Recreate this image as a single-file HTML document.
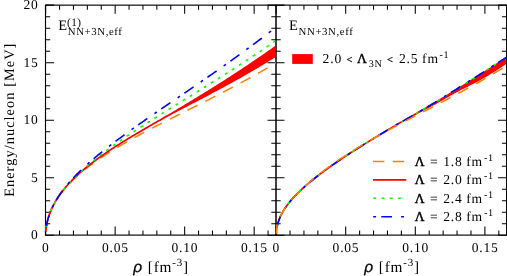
<!DOCTYPE html>
<html><head><meta charset="utf-8"><title>Energy per nucleon</title>
<style>
html,body{margin:0;padding:0;background:#fff;width:507px;height:276px;overflow:hidden}
body{font-family:"Liberation Serif",serif;position:relative}
</style></head><body>
<svg width="507" height="276" viewBox="0 0 507 276" style="position:absolute;left:0;top:0;will-change:transform;text-rendering:geometricPrecision">
<rect width="507" height="276" fill="#fff"/>
<g stroke="#000" fill="none">
<rect x="45.50" y="5.15" width="461.10" height="229.95" stroke-width="1.15"/>
<line x1="276.00" y1="5.15" x2="276.00" y2="235.10" stroke-width="1.5"/>
</g>
<g stroke="#000" fill="none" stroke-linecap="butt">
<path stroke-width="1.05" d="M45.65,235.10 L45.65,226.60 M45.65,5.15 L45.65,13.65 M276.10,235.10 L276.10,226.60 M276.10,5.15 L276.10,13.65 M59.55,235.10 L59.55,230.40 M59.55,5.15 L59.55,9.85 M290.02,235.10 L290.02,230.40 M290.02,5.15 L290.02,9.85 M73.45,235.10 L73.45,230.40 M73.45,5.15 L73.45,9.85 M303.94,235.10 L303.94,230.40 M303.94,5.15 L303.94,9.85 M87.35,235.10 L87.35,230.40 M87.35,5.15 L87.35,9.85 M317.86,235.10 L317.86,230.40 M317.86,5.15 L317.86,9.85 M101.25,235.10 L101.25,230.40 M101.25,5.15 L101.25,9.85 M331.78,235.10 L331.78,230.40 M331.78,5.15 L331.78,9.85 M115.15,235.10 L115.15,226.60 M115.15,5.15 L115.15,13.65 M345.70,235.10 L345.70,226.60 M345.70,5.15 L345.70,13.65 M129.05,235.10 L129.05,230.40 M129.05,5.15 L129.05,9.85 M359.62,235.10 L359.62,230.40 M359.62,5.15 L359.62,9.85 M142.95,235.10 L142.95,230.40 M142.95,5.15 L142.95,9.85 M373.54,235.10 L373.54,230.40 M373.54,5.15 L373.54,9.85 M156.85,235.10 L156.85,230.40 M156.85,5.15 L156.85,9.85 M387.46,235.10 L387.46,230.40 M387.46,5.15 L387.46,9.85 M170.75,235.10 L170.75,230.40 M170.75,5.15 L170.75,9.85 M401.38,235.10 L401.38,230.40 M401.38,5.15 L401.38,9.85 M184.65,235.10 L184.65,226.60 M184.65,5.15 L184.65,13.65 M415.30,235.10 L415.30,226.60 M415.30,5.15 L415.30,13.65 M198.55,235.10 L198.55,230.40 M198.55,5.15 L198.55,9.85 M429.22,235.10 L429.22,230.40 M429.22,5.15 L429.22,9.85 M212.45,235.10 L212.45,230.40 M212.45,5.15 L212.45,9.85 M443.14,235.10 L443.14,230.40 M443.14,5.15 L443.14,9.85 M226.35,235.10 L226.35,230.40 M226.35,5.15 L226.35,9.85 M457.06,235.10 L457.06,230.40 M457.06,5.15 L457.06,9.85 M240.25,235.10 L240.25,230.40 M240.25,5.15 L240.25,9.85 M470.98,235.10 L470.98,230.40 M470.98,5.15 L470.98,9.85 M254.15,235.10 L254.15,226.60 M254.15,5.15 L254.15,13.65 M484.90,235.10 L484.90,226.60 M484.90,5.15 L484.90,13.65 M268.05,235.10 L268.05,230.40 M268.05,5.15 L268.05,9.85 M498.82,235.10 L498.82,230.40 M498.82,5.15 L498.82,9.85 M45.50,235.15 L54.00,235.15 M267.50,235.15 L284.50,235.15 M506.60,235.15 L498.10,235.15 M45.50,223.70 L50.20,223.70 M271.30,223.70 L280.70,223.70 M506.60,223.70 L501.90,223.70 M45.50,212.20 L50.20,212.20 M271.30,212.20 L280.70,212.20 M506.60,212.20 L501.90,212.20 M45.50,200.71 L50.20,200.71 M271.30,200.71 L280.70,200.71 M506.60,200.71 L501.90,200.71 M45.50,189.21 L50.20,189.21 M271.30,189.21 L280.70,189.21 M506.60,189.21 L501.90,189.21 M45.50,177.71 L54.00,177.71 M267.50,177.71 L284.50,177.71 M506.60,177.71 L498.10,177.71 M45.50,166.22 L50.20,166.22 M271.30,166.22 L280.70,166.22 M506.60,166.22 L501.90,166.22 M45.50,154.72 L50.20,154.72 M271.30,154.72 L280.70,154.72 M506.60,154.72 L501.90,154.72 M45.50,143.22 L50.20,143.22 M271.30,143.22 L280.70,143.22 M506.60,143.22 L501.90,143.22 M45.50,131.72 L50.20,131.72 M271.30,131.72 L280.70,131.72 M506.60,131.72 L501.90,131.72 M45.50,120.22 L54.00,120.22 M267.50,120.22 L284.50,120.22 M506.60,120.22 L498.10,120.22 M45.50,108.73 L50.20,108.73 M271.30,108.73 L280.70,108.73 M506.60,108.73 L501.90,108.73 M45.50,97.23 L50.20,97.23 M271.30,97.23 L280.70,97.23 M506.60,97.23 L501.90,97.23 M45.50,85.73 L50.20,85.73 M271.30,85.73 L280.70,85.73 M506.60,85.73 L501.90,85.73 M45.50,74.24 L50.20,74.24 M271.30,74.24 L280.70,74.24 M506.60,74.24 L501.90,74.24 M45.50,62.74 L54.00,62.74 M267.50,62.74 L284.50,62.74 M506.60,62.74 L498.10,62.74 M45.50,51.24 L50.20,51.24 M271.30,51.24 L280.70,51.24 M506.60,51.24 L501.90,51.24 M45.50,39.74 L50.20,39.74 M271.30,39.74 L280.70,39.74 M506.60,39.74 L501.90,39.74 M45.50,28.25 L50.20,28.25 M271.30,28.25 L280.70,28.25 M506.60,28.25 L501.90,28.25 M45.50,16.75 L50.20,16.75 M271.30,16.75 L280.70,16.75 M506.60,16.75 L501.90,16.75 M45.50,5.10 L54.00,5.10 M267.50,5.10 L284.50,5.10 M506.60,5.10 L498.10,5.10"/>
</g>
<g clip-path="url(#clipL)">
<defs><clipPath id="clipL"><rect x="44.50" y="5.15" width="230.80" height="230.45"/></clipPath><clipPath id="clipR"><rect x="275.50" y="5.15" width="230.40" height="230.45"/></clipPath></defs>
<path d="M45.50,232.00 L46.00,228.41 L46.01,228.37 L46.02,228.24 L46.05,228.03 L46.09,227.74 L46.14,227.39 L46.20,226.97 L46.27,226.50 L46.36,225.98 L46.45,225.42 L46.56,224.82 L46.68,224.20 L46.81,223.55 L46.95,222.87 L47.10,222.18 L47.26,221.48 L47.43,220.76 L47.62,220.03 L47.81,219.29 L48.02,218.54 L48.24,217.79 L48.47,217.03 L48.71,216.27 L48.96,215.50 L49.22,214.73 L49.50,213.96 L49.78,213.18 L50.08,212.40 L50.39,211.63 L50.71,210.85 L51.04,210.07 L51.38,209.29 L51.73,208.51 L52.09,207.73 L52.47,206.95 L52.85,206.17 L53.25,205.39 L53.66,204.61 L54.08,203.83 L54.51,203.06 L54.95,202.28 L55.41,201.51 L55.87,200.73 L56.35,199.96 L56.83,199.19 L57.33,198.42 L57.84,197.65 L58.36,196.88 L58.89,196.11 L59.44,195.34 L59.99,194.57 L60.55,193.81 L61.13,193.05 L61.72,192.28 L62.32,191.52 L62.93,190.76 L63.55,190.00 L64.18,189.24 L64.82,188.48 L65.48,187.72 L66.14,186.97 L66.82,186.21 L67.51,185.45 L68.21,184.70 L68.92,183.95 L69.64,183.19 L70.38,182.44 L71.12,181.69 L71.88,180.94 L72.64,180.19 L73.42,179.44 L74.21,178.69 L75.01,177.94 L75.82,177.20 L76.64,176.45 L77.48,175.70 L78.32,174.95 L79.18,174.21 L80.04,173.46 L80.92,172.72 L81.81,171.97 L82.71,171.23 L83.63,170.48 L84.55,169.74 L85.48,169.00 L86.43,168.25 L87.39,167.51 L88.35,166.77 L89.33,166.02 L90.32,165.28 L91.33,164.54 L92.34,163.79 L93.36,163.05 L94.40,162.30 L95.44,161.56 L96.50,160.82 L97.57,160.07 L98.65,159.33 L99.74,158.58 L100.84,157.84 L101.96,157.09 L103.08,156.34 L104.22,155.60 L105.37,154.85 L106.52,154.10 L107.69,153.35 L108.87,152.60 L110.07,151.85 L111.27,151.10 L112.48,150.35 L113.71,149.60 L114.95,148.84 L116.19,148.09 L117.45,147.33 L118.72,146.58 L120.00,145.82 L121.30,145.06 L122.60,144.30 L123.92,143.53 L125.24,142.77 L126.58,142.00 L127.93,141.24 L129.29,140.47 L130.66,139.70 L132.04,138.92 L133.43,138.15 L134.84,137.37 L136.25,136.59 L137.68,135.81 L139.12,135.03 L140.57,134.24 L142.03,133.45 L143.50,132.66 L144.98,131.87 L146.48,131.07 L147.98,130.27 L149.50,129.47 L151.03,128.67 L152.57,127.88 L154.12,127.08 L155.68,126.28 L157.25,125.47 L158.83,124.66 L160.43,123.85 L162.03,123.04 L163.65,122.22 L165.28,121.39 L166.92,120.57 L168.57,119.73 L170.23,118.90 L171.91,118.06 L173.59,117.21 L175.29,116.36 L176.99,115.50 L178.71,114.64 L180.44,113.78 L182.18,112.91 L183.93,112.03 L185.69,111.15 L187.47,110.26 L189.25,109.37 L191.05,108.47 L192.86,107.56 L194.68,106.65 L196.51,105.73 L198.35,104.80 L200.20,103.87 L202.06,102.93 L203.94,101.98 L205.82,101.03 L207.72,100.07 L209.63,99.10 L211.55,98.12 L213.48,97.13 L215.42,96.14 L217.37,95.13 L219.34,94.12 L221.31,93.10 L223.30,92.07 L225.30,91.03 L227.30,89.98 L229.32,88.92 L231.36,87.85 L233.40,86.77 L235.45,85.68 L237.52,84.58 L239.59,83.47 L241.68,82.34 L243.78,81.21 L245.89,80.06 L248.01,78.90 L250.14,77.73 L252.28,76.55 L254.44,75.35 L256.60,74.15 L258.78,72.92 L260.97,71.69 L263.17,70.44 L265.38,69.18 L267.60,67.90" fill="none" stroke="#ff7f00" stroke-width="1.50" stroke-dasharray="11.20 8.70" stroke-dashoffset="4.24"/>
<path d="M44.66,231.88 L45.16,228.43 L45.16,228.39 L45.18,228.26 L45.21,228.04 L45.25,227.74 L45.30,227.37 L45.37,226.94 L45.45,226.45 L45.53,225.91 L45.63,225.34 L45.75,224.72 L45.87,224.07 L46.00,223.40 L46.15,222.71 L46.31,221.99 L46.48,221.26 L46.66,220.52 L46.86,219.77 L47.06,219.00 L47.28,218.23 L47.51,217.45 L47.75,216.66 L48.00,215.87 L48.27,215.07 L48.54,214.27 L48.83,213.47 L49.13,212.66 L49.44,211.85 L49.77,211.04 L50.10,210.23 L50.45,209.42 L50.81,208.61 L51.18,207.80 L51.56,206.98 L51.95,206.17 L52.36,205.36 L52.77,204.54 L53.20,203.73 L53.64,202.92 L54.09,202.11 L54.56,201.30 L55.03,200.48 L55.52,199.67 L56.02,198.87 L56.53,198.06 L57.05,197.25 L57.58,196.44 L58.13,195.64 L58.68,194.83 L59.25,194.03 L59.83,193.22 L60.42,192.42 L61.03,191.62 L61.64,190.82 L62.27,190.02 L62.91,189.22 L63.56,188.42 L64.22,187.62 L64.89,186.82 L65.57,186.02 L66.27,185.23 L66.98,184.43 L67.70,183.63 L68.43,182.84 L69.17,182.05 L69.92,181.25 L70.69,180.46 L71.47,179.67 L72.26,178.87 L73.06,178.08 L73.87,177.29 L74.69,176.50 L75.53,175.71 L76.37,174.91 L77.23,174.12 L78.10,173.33 L78.98,172.54 L79.87,171.75 L80.78,170.96 L81.69,170.17 L82.62,169.38 L83.56,168.59 L84.51,167.80 L85.47,167.00 L86.45,166.21 L87.43,165.42 L88.43,164.63 L89.44,163.83 L90.46,163.04 L91.49,162.25 L92.53,161.45 L93.59,160.66 L94.65,159.86 L95.73,159.06 L96.82,158.27 L97.92,157.47 L99.03,156.67 L100.16,155.87 L101.29,155.07 L102.44,154.27 L103.60,153.46 L104.77,152.66 L105.95,151.85 L107.14,151.04 L108.35,150.23 L109.56,149.42 L110.79,148.61 L112.03,147.80 L113.28,146.98 L114.54,146.16 L115.82,145.35 L117.10,144.52 L118.40,143.70 L119.71,142.88 L121.03,142.05 L122.36,141.22 L123.70,140.39 L125.06,139.55 L126.43,138.71 L127.80,137.87 L129.19,137.03 L130.60,136.18 L132.01,135.34 L133.43,134.48 L134.87,133.63 L136.32,132.77 L137.78,131.91 L139.25,131.04 L140.73,130.18 L142.22,129.30 L143.73,128.43 L145.24,127.55 L146.77,126.66 L148.31,125.77 L149.86,124.88 L151.43,123.98 L153.00,123.08 L154.59,122.17 L156.18,121.25 L157.79,120.33 L159.41,119.40 L161.04,118.47 L162.69,117.53 L164.34,116.58 L166.01,115.62 L167.69,114.65 L169.37,113.67 L171.08,112.68 L172.79,111.68 L174.51,110.67 L176.25,109.64 L177.99,108.60 L179.75,107.56 L181.52,106.50 L183.30,105.43 L185.10,104.35 L186.90,103.26 L188.72,102.16 L190.55,101.05 L192.39,99.93 L194.24,98.80 L196.10,97.67 L197.98,96.52 L199.87,95.36 L201.76,94.20 L203.67,93.02 L205.60,91.83 L207.53,90.64 L209.47,89.43 L211.43,88.21 L213.40,86.98 L215.38,85.75 L217.37,84.49 L219.37,83.23 L221.39,81.96 L223.41,80.67 L225.45,79.38 L227.50,78.07 L229.56,76.74 L231.63,75.41 L233.71,74.06 L235.81,72.70 L237.92,71.32 L240.04,69.93 L242.17,68.53 L244.31,67.11 L246.46,65.68 L248.62,64.23 L250.80,62.77 L252.99,61.29 L255.19,59.80 L257.40,58.29 L259.62,56.77 L261.86,55.23 L264.10,53.67 L266.36,52.09 L268.63,50.50 L270.91,48.89 L273.20,47.26 L275.51,45.61 L276.45,56.59 L274.14,58.03 L271.85,59.45 L269.56,60.85 L267.29,62.24 L265.03,63.61 L262.78,64.96 L260.54,66.30 L258.31,67.63 L256.10,68.93 L253.89,70.23 L251.70,71.51 L249.52,72.77 L247.35,74.02 L245.20,75.25 L243.05,76.48 L240.92,77.69 L238.80,78.88 L236.69,80.07 L234.59,81.24 L232.50,82.39 L230.43,83.54 L228.37,84.67 L226.31,85.80 L224.27,86.91 L222.25,88.01 L220.23,89.10 L218.22,90.18 L216.23,91.25 L214.25,92.31 L212.28,93.35 L210.32,94.39 L208.37,95.42 L206.44,96.44 L204.52,97.45 L202.60,98.46 L200.70,99.45 L198.82,100.44 L196.94,101.41 L195.08,102.38 L193.22,103.35 L191.38,104.30 L189.55,105.25 L187.73,106.19 L185.93,107.13 L184.13,108.06 L182.35,108.99 L180.58,109.92 L178.82,110.84 L177.08,111.76 L175.34,112.68 L173.62,113.60 L171.91,114.52 L170.21,115.44 L168.52,116.36 L166.84,117.28 L165.18,118.20 L163.52,119.12 L161.88,120.04 L160.25,120.95 L158.63,121.86 L157.02,122.77 L155.43,123.68 L153.84,124.58 L152.27,125.47 L150.71,126.37 L149.16,127.26 L147.62,128.14 L146.10,129.02 L144.58,129.90 L143.08,130.78 L141.59,131.65 L140.11,132.51 L138.64,133.38 L137.18,134.24 L135.74,135.09 L134.30,135.95 L132.88,136.80 L131.47,137.64 L130.07,138.49 L128.69,139.33 L127.31,140.16 L125.95,141.00 L124.60,141.83 L123.26,142.66 L121.93,143.49 L120.61,144.31 L119.31,145.14 L118.02,145.96 L116.73,146.78 L115.46,147.59 L114.21,148.41 L112.96,149.22 L111.73,150.03 L110.50,150.84 L109.29,151.65 L108.09,152.45 L106.90,153.26 L105.73,154.06 L104.56,154.86 L103.41,155.66 L102.27,156.46 L101.14,157.26 L100.02,158.05 L98.91,158.85 L97.82,159.64 L96.74,160.43 L95.67,161.23 L94.61,162.02 L93.56,162.81 L92.52,163.60 L91.50,164.39 L90.48,165.17 L89.48,165.96 L88.49,166.75 L87.52,167.53 L86.55,168.32 L85.59,169.11 L84.65,169.89 L83.72,170.68 L82.80,171.46 L81.89,172.24 L81.00,173.03 L80.11,173.81 L79.24,174.59 L78.38,175.38 L77.53,176.16 L76.69,176.94 L75.86,177.73 L75.05,178.51 L74.25,179.29 L73.46,180.08 L72.68,180.86 L71.91,181.64 L71.15,182.43 L70.41,183.21 L69.68,184.00 L68.95,184.78 L68.24,185.57 L67.55,186.35 L66.86,187.14 L66.19,187.92 L65.52,188.71 L64.87,189.49 L64.23,190.28 L63.60,191.07 L62.99,191.86 L62.38,192.65 L61.79,193.43 L61.21,194.22 L60.64,195.01 L60.08,195.80 L59.53,196.60 L59.00,197.39 L58.47,198.18 L57.96,198.97 L57.46,199.76 L56.97,200.56 L56.49,201.35 L56.03,202.15 L55.57,202.94 L55.13,203.74 L54.70,204.53 L54.28,205.33 L53.87,206.12 L53.48,206.92 L53.09,207.71 L52.72,208.51 L52.36,209.30 L52.01,210.10 L51.67,210.89 L51.34,211.68 L51.03,212.47 L50.72,213.26 L50.43,214.05 L50.15,214.83 L49.88,215.61 L49.62,216.39 L49.37,217.17 L49.14,217.93 L48.91,218.70 L48.70,219.45 L48.50,220.20 L48.31,220.93 L48.13,221.66 L47.97,222.37 L47.81,223.07 L47.67,223.75 L47.54,224.40 L47.42,225.03 L47.31,225.63 L47.21,226.20 L47.12,226.72 L47.05,227.20 L46.99,227.62 L46.93,227.98 L46.89,228.27 L46.87,228.48 L46.85,228.61 L46.84,228.67 L46.34,232.12 Z" fill="#ff0000" stroke="none"/>
<path d="M45.50,232.00 L46.00,228.42 L46.01,228.38 L46.02,228.24 L46.05,228.03 L46.09,227.73 L46.15,227.37 L46.21,226.94 L46.28,226.45 L46.37,225.92 L46.47,225.35 L46.58,224.74 L46.70,224.11 L46.84,223.45 L46.98,222.77 L47.14,222.07 L47.31,221.35 L47.49,220.62 L47.68,219.88 L47.88,219.13 L48.10,218.38 L48.32,217.62 L48.56,216.85 L48.81,216.07 L49.07,215.30 L49.35,214.52 L49.63,213.73 L49.93,212.95 L50.23,212.16 L50.55,211.37 L50.88,210.58 L51.23,209.79 L51.58,208.99 L51.95,208.20 L52.32,207.40 L52.71,206.61 L53.11,205.81 L53.53,205.02 L53.95,204.22 L54.39,203.42 L54.83,202.62 L55.29,201.83 L55.76,201.03 L56.25,200.23 L56.74,199.43 L57.24,198.63 L57.76,197.83 L58.29,197.03 L58.83,196.23 L59.38,195.43 L59.94,194.63 L60.52,193.83 L61.11,193.03 L61.70,192.22 L62.31,191.42 L62.94,190.62 L63.57,189.81 L64.21,189.01 L64.87,188.20 L65.54,187.40 L66.22,186.59 L66.91,185.78 L67.61,184.97 L68.33,184.16 L69.05,183.35 L69.79,182.54 L70.54,181.73 L71.30,180.91 L72.07,180.10 L72.86,179.28 L73.65,178.46 L74.46,177.64 L75.28,176.83 L76.11,176.00 L76.95,175.18 L77.80,174.36 L78.67,173.53 L79.55,172.71 L80.44,171.88 L81.34,171.05 L82.25,170.22 L83.17,169.39 L84.11,168.55 L85.05,167.72 L86.01,166.88 L86.98,166.04 L87.96,165.20 L88.96,164.36 L89.96,163.51 L90.98,162.67 L92.00,161.82 L93.04,160.97 L94.10,160.12 L95.16,159.26 L96.23,158.41 L97.32,157.55 L98.42,156.69 L99.53,155.82 L100.65,154.96 L101.78,154.09 L102.92,153.22 L104.08,152.35 L105.25,151.48 L106.43,150.60 L107.62,149.72 L108.82,148.84 L110.03,147.96 L111.26,147.07 L112.50,146.18 L113.74,145.29 L115.00,144.40 L116.28,143.50 L117.56,142.60 L118.85,141.69 L120.16,140.79 L121.48,139.88 L122.81,138.96 L124.15,138.05 L125.50,137.13 L126.87,136.21 L128.25,135.28 L129.63,134.35 L131.03,133.42 L132.45,132.48 L133.87,131.54 L135.30,130.60 L136.75,129.65 L138.21,128.70 L139.68,127.74 L141.16,126.78 L142.65,125.82 L144.15,124.85 L145.67,123.88 L147.20,122.90 L148.74,121.92 L150.29,120.94 L151.85,119.95 L153.42,118.95 L155.01,117.95 L156.61,116.95 L158.22,115.93 L159.84,114.92 L161.47,113.90 L163.11,112.87 L164.77,111.84 L166.43,110.80 L168.11,109.76 L169.80,108.71 L171.50,107.65 L173.22,106.59 L174.94,105.53 L176.68,104.45 L178.43,103.37 L180.19,102.28 L181.96,101.19 L183.74,100.09 L185.54,98.98 L187.34,97.86 L189.16,96.74 L190.99,95.61 L192.83,94.47 L194.68,93.33 L196.55,92.17 L198.42,91.01 L200.31,89.84 L202.21,88.66 L204.12,87.47 L206.04,86.28 L207.98,85.07 L209.92,83.85 L211.88,82.63 L213.85,81.40 L215.83,80.15 L217.82,78.90 L219.83,77.63 L221.84,76.36 L223.87,75.07 L225.91,73.78 L227.96,72.47 L230.02,71.15 L232.09,69.82 L234.18,68.48 L236.27,67.13 L238.38,65.76 L240.50,64.39 L242.63,63.00 L244.78,61.59 L246.93,60.18 L249.10,58.75 L251.28,57.31 L253.47,55.85 L255.67,54.38 L257.88,52.89 L260.10,51.39 L262.34,49.88 L264.59,48.35 L266.85,46.81 L269.12,45.25 L271.40,43.67 L273.69,42.08 L276.00,40.47" fill="none" stroke="#00ff00" stroke-width="1.60" stroke-dasharray="2.80 5.50" stroke-dashoffset="3.26"/>
<path d="M45.50,232.00 L46.00,228.64 L46.01,228.60 L46.02,228.47 L46.05,228.26 L46.09,227.98 L46.14,227.62 L46.20,227.21 L46.28,226.74 L46.36,226.22 L46.46,225.67 L46.57,225.07 L46.69,224.45 L46.82,223.80 L46.96,223.13 L47.12,222.44 L47.28,221.74 L47.46,221.02 L47.65,220.29 L47.84,219.54 L48.06,218.79 L48.28,218.03 L48.51,217.26 L48.76,216.49 L49.01,215.71 L49.28,214.93 L49.56,214.15 L49.85,213.36 L50.15,212.57 L50.46,211.77 L50.79,210.97 L51.12,210.17 L51.47,209.37 L51.83,208.57 L52.20,207.76 L52.58,206.96 L52.98,206.15 L53.38,205.34 L53.80,204.53 L54.22,203.72 L54.66,202.91 L55.11,202.10 L55.57,201.29 L56.04,200.47 L56.53,199.66 L57.02,198.84 L57.53,198.03 L58.05,197.21 L58.58,196.39 L59.12,195.58 L59.67,194.76 L60.24,193.94 L60.81,193.12 L61.40,192.29 L62.00,191.47 L62.60,190.65 L63.23,189.82 L63.86,189.00 L64.50,188.17 L65.16,187.34 L65.82,186.52 L66.50,185.69 L67.19,184.86 L67.89,184.02 L68.60,183.19 L69.32,182.36 L70.06,181.52 L70.80,180.68 L71.56,179.85 L72.33,179.01 L73.11,178.16 L73.90,177.32 L74.70,176.48 L75.52,175.63 L76.34,174.78 L77.18,173.94 L78.03,173.08 L78.89,172.23 L79.76,171.38 L80.64,170.52 L81.54,169.66 L82.44,168.80 L83.36,167.94 L84.29,167.07 L85.23,166.21 L86.18,165.34 L87.14,164.47 L88.12,163.60 L89.10,162.72 L90.10,161.84 L91.10,160.96 L92.12,160.08 L93.15,159.19 L94.20,158.31 L95.25,157.42 L96.31,156.52 L97.39,155.63 L98.48,154.73 L99.58,153.83 L100.69,152.92 L101.81,152.02 L102.94,151.11 L104.09,150.19 L105.24,149.28 L106.41,148.36 L107.59,147.44 L108.78,146.51 L109.98,145.58 L111.19,144.65 L112.42,143.71 L113.65,142.77 L114.90,141.83 L116.16,140.88 L117.43,139.93 L118.71,138.98 L120.00,138.02 L121.31,137.05 L122.62,136.09 L123.95,135.12 L125.29,134.14 L126.64,133.16 L128.00,132.18 L129.37,131.19 L130.75,130.20 L132.15,129.20 L133.56,128.20 L134.97,127.19 L136.40,126.18 L137.84,125.16 L139.30,124.14 L140.76,123.11 L142.23,122.08 L143.72,121.04 L145.22,120.00 L146.73,118.95 L148.25,117.89 L149.78,116.83 L151.32,115.77 L152.88,114.69 L154.44,113.62 L156.02,112.53 L157.61,111.44 L159.21,110.34 L160.82,109.24 L162.44,108.13 L164.08,107.01 L165.72,105.89 L167.38,104.76 L169.05,103.62 L170.73,102.47 L172.42,101.32 L174.12,100.16 L175.84,98.99 L177.56,97.82 L179.30,96.63 L181.05,95.44 L182.81,94.24 L184.58,93.03 L186.36,91.81 L188.15,90.59 L189.96,89.35 L191.77,88.11 L193.60,86.86 L195.44,85.60 L197.29,84.32 L199.15,83.04 L201.03,81.75 L202.91,80.45 L204.81,79.14 L206.72,77.82 L208.63,76.49 L210.57,75.15 L212.51,73.79 L214.46,72.43 L216.42,71.06 L218.40,69.67 L220.39,68.27 L222.39,66.86 L224.40,65.44 L226.42,64.01 L228.45,62.56 L230.50,61.10 L232.55,59.63 L234.62,58.15 L236.70,56.65 L238.79,55.14 L240.89,53.62 L243.00,52.08 L245.12,50.53 L247.26,48.96 L249.41,47.38 L251.56,45.78 L253.73,44.17 L255.91,42.55 L258.11,40.91 L260.31,39.25 L262.53,37.58 L264.75,35.89 L266.99,34.19 L269.24,32.47 L271.50,30.73" fill="none" stroke="#0000ff" stroke-width="1.60" stroke-dasharray="11.10 8.70 2.80 5.40" stroke-dashoffset="22.07"/>
</g>
<g clip-path="url(#clipR)">
<path d="M275.45,233.56 L275.65,229.58 L275.67,229.46 L275.68,229.34 L275.71,229.15 L275.75,228.90 L275.81,228.58 L275.87,228.21 L275.95,227.78 L276.04,227.32 L276.14,226.83 L276.25,226.30 L276.37,225.75 L276.51,225.18 L276.66,224.59 L276.82,223.98 L276.99,223.37 L277.17,222.74 L277.37,222.10 L277.58,221.46 L277.79,220.81 L278.02,220.15 L278.27,219.49 L278.52,218.83 L278.79,218.16 L279.06,217.49 L279.35,216.82 L279.65,216.15 L279.97,215.47 L280.29,214.80 L280.63,214.12 L280.98,213.44 L281.34,212.76 L281.71,212.09 L282.09,211.41 L282.48,210.73 L282.89,210.05 L283.31,209.37 L283.74,208.69 L284.18,208.00 L284.63,207.32 L285.10,206.64 L285.57,205.96 L286.06,205.27 L286.56,204.59 L287.07,203.91 L287.59,203.22 L288.13,202.54 L288.67,201.85 L289.23,201.16 L289.80,200.47 L290.38,199.78 L290.97,199.09 L291.57,198.40 L292.19,197.71 L292.81,197.02 L293.45,196.32 L294.10,195.63 L294.76,194.93 L295.44,194.23 L296.12,193.53 L296.82,192.83 L297.52,192.12 L298.24,191.42 L298.97,190.71 L299.71,190.00 L300.47,189.29 L301.23,188.58 L302.01,187.86 L302.80,187.15 L303.60,186.43 L304.41,185.71 L305.23,184.98 L306.07,184.26 L306.91,183.53 L307.77,182.80 L308.64,182.07 L309.52,181.33 L310.41,180.60 L311.31,179.86 L312.23,179.11 L313.16,178.37 L314.09,177.62 L315.04,176.87 L316.01,176.12 L316.98,175.36 L317.96,174.60 L318.96,173.84 L319.97,173.08 L320.99,172.31 L322.02,171.54 L323.06,170.77 L324.11,170.00 L325.18,169.22 L326.26,168.44 L327.35,167.65 L328.45,166.86 L329.56,166.07 L330.68,165.28 L331.82,164.48 L332.96,163.68 L334.12,162.88 L335.29,162.07 L336.47,161.26 L337.67,160.45 L338.87,159.63 L340.09,158.81 L341.31,157.98 L342.55,157.16 L343.80,156.33 L345.07,155.49 L346.34,154.65 L347.63,153.81 L348.92,152.97 L350.23,152.12 L351.55,151.27 L352.88,150.41 L354.23,149.55 L355.58,148.69 L356.95,147.82 L358.33,146.95 L359.72,146.07 L361.12,145.19 L362.53,144.31 L363.96,143.42 L365.39,142.53 L366.84,141.63 L368.30,140.73 L369.77,139.83 L371.26,138.92 L372.75,138.01 L374.26,137.09 L375.77,136.17 L377.30,135.25 L378.84,134.32 L380.39,133.38 L381.96,132.44 L383.53,131.50 L385.12,130.55 L386.72,129.60 L388.33,128.64 L389.95,127.67 L391.59,126.71 L393.23,125.74 L394.89,124.77 L396.56,123.80 L398.24,122.83 L399.93,121.86 L401.64,120.88 L403.35,119.90 L405.08,118.91 L406.82,117.92 L408.56,116.93 L410.33,115.93 L412.10,114.92 L413.88,113.91 L415.68,112.89 L417.48,111.87 L419.30,110.83 L421.13,109.79 L422.97,108.74 L424.82,107.68 L426.69,106.60 L428.56,105.52 L430.45,104.42 L432.35,103.31 L434.26,102.20 L436.18,101.07 L438.12,99.93 L440.06,98.78 L442.02,97.61 L443.98,96.44 L445.96,95.24 L447.95,94.03 L449.96,92.81 L451.97,91.57 L454.00,90.32 L456.04,89.06 L458.09,87.78 L460.15,86.49 L462.22,85.19 L464.31,83.88 L466.40,82.56 L468.51,81.23 L470.63,79.89 L472.76,78.54 L474.91,77.18 L477.06,75.81 L479.23,74.44 L481.41,73.05 L483.60,71.65 L485.80,70.24 L488.01,68.82 L490.24,67.38 L492.47,65.94 L494.72,64.49 L496.98,63.03 L499.25,61.55 L501.53,60.06 L503.83,58.57 L506.13,57.06 L507.07,63.48 L504.76,64.99 L502.46,66.49 L500.18,67.98 L497.91,69.45 L495.64,70.92 L493.39,72.37 L491.15,73.81 L488.91,75.19 L486.69,76.52 L484.48,77.80 L482.28,79.04 L480.09,80.24 L477.92,81.40 L475.76,82.54 L473.61,83.65 L471.47,84.74 L469.35,85.82 L467.24,86.89 L465.14,87.95 L463.06,89.01 L460.99,90.07 L458.93,91.14 L456.88,92.21 L454.85,93.30 L452.83,94.40 L450.82,95.52 L448.82,96.65 L446.84,97.81 L444.86,98.99 L442.88,100.16 L440.91,101.28 L438.96,102.37 L437.02,103.44 L435.09,104.48 L433.18,105.50 L431.27,106.51 L429.39,107.50 L427.51,108.49 L425.64,109.46 L423.79,110.44 L421.95,111.41 L420.13,112.39 L418.31,113.38 L416.51,114.38 L414.72,115.39 L412.94,116.40 L411.16,117.41 L409.40,118.40 L407.66,119.40 L405.92,120.39 L404.19,121.37 L402.48,122.35 L400.78,123.33 L399.09,124.30 L397.41,125.27 L395.75,126.24 L394.09,127.21 L392.45,128.17 L390.82,129.14 L389.20,130.10 L387.59,131.06 L385.99,132.01 L384.41,132.96 L382.83,133.90 L381.27,134.84 L379.72,135.77 L378.18,136.70 L376.65,137.62 L375.14,138.54 L373.63,139.46 L372.14,140.37 L370.66,141.28 L369.19,142.18 L367.74,143.08 L366.29,143.97 L364.86,144.86 L363.43,145.75 L362.02,146.63 L360.62,147.51 L359.24,148.38 L357.86,149.25 L356.50,150.12 L355.14,150.98 L353.80,151.84 L352.47,152.70 L351.16,153.55 L349.85,154.39 L348.56,155.24 L347.27,156.08 L346.00,156.91 L344.74,157.74 L343.50,158.57 L342.26,159.40 L341.03,160.22 L339.82,161.04 L338.62,161.85 L337.43,162.66 L336.25,163.47 L335.09,164.27 L333.93,165.08 L332.79,165.87 L331.66,166.67 L330.54,167.46 L329.43,168.25 L328.34,169.03 L327.25,169.81 L326.18,170.59 L325.12,171.37 L324.07,172.14 L323.03,172.91 L322.01,173.67 L320.99,174.44 L319.99,175.20 L319.00,175.95 L318.02,176.71 L317.05,177.46 L316.09,178.21 L315.15,178.95 L314.22,179.70 L313.30,180.44 L312.39,181.17 L311.49,181.91 L310.60,182.64 L309.73,183.37 L308.87,184.10 L308.02,184.82 L307.18,185.54 L306.35,186.26 L305.53,186.98 L304.73,187.69 L303.94,188.41 L303.16,189.12 L302.39,189.82 L301.63,190.53 L300.88,191.23 L300.15,191.93 L299.43,192.63 L298.72,193.33 L298.02,194.03 L297.33,194.72 L296.66,195.41 L295.99,196.10 L295.34,196.79 L294.70,197.48 L294.07,198.16 L293.45,198.84 L292.85,199.53 L292.26,200.21 L291.67,200.88 L291.10,201.56 L290.55,202.24 L290.00,202.91 L289.46,203.59 L288.94,204.26 L288.43,204.93 L287.93,205.60 L287.44,206.27 L286.96,206.94 L286.50,207.60 L286.04,208.27 L285.60,208.94 L285.17,209.60 L284.75,210.26 L284.34,210.93 L283.95,211.59 L283.57,212.25 L283.19,212.91 L282.83,213.57 L282.48,214.23 L282.15,214.89 L281.82,215.54 L281.50,216.20 L281.20,216.85 L280.91,217.50 L280.63,218.15 L280.36,218.80 L280.10,219.45 L279.86,220.09 L279.62,220.73 L279.40,221.36 L279.19,221.99 L278.99,222.61 L278.80,223.22 L278.62,223.83 L278.46,224.43 L278.31,225.01 L278.16,225.58 L278.03,226.13 L277.91,226.67 L277.80,227.17 L277.71,227.65 L277.62,228.10 L277.55,228.50 L277.48,228.86 L277.43,229.17 L277.39,229.42 L277.36,229.60 L277.35,229.72 L277.35,229.67 L277.15,233.64 Z" fill="#ff0000" stroke="none"/>
<path d="M276.30,233.60 L276.50,229.63 L276.51,229.59 L276.52,229.47 L276.55,229.29 L276.59,229.03 L276.65,228.72 L276.71,228.35 L276.78,227.94 L276.87,227.49 L276.97,227.00 L277.08,226.48 L277.20,225.94 L277.34,225.38 L277.48,224.80 L277.64,224.21 L277.81,223.60 L277.99,222.98 L278.18,222.36 L278.38,221.72 L278.60,221.08 L278.82,220.44 L279.06,219.79 L279.31,219.14 L279.57,218.48 L279.85,217.82 L280.13,217.16 L280.43,216.50 L280.74,215.84 L281.06,215.17 L281.39,214.50 L281.73,213.84 L282.08,213.17 L282.45,212.50 L282.83,211.83 L283.22,211.16 L283.62,210.49 L284.03,209.82 L284.45,209.14 L284.89,208.47 L285.34,207.80 L285.80,207.12 L286.27,206.45 L286.75,205.77 L287.24,205.10 L287.75,204.42 L288.27,203.74 L288.79,203.06 L289.34,202.38 L289.89,201.70 L290.45,201.02 L291.03,200.33 L291.61,199.65 L292.21,198.96 L292.82,198.28 L293.44,197.59 L294.08,196.90 L294.72,196.21 L295.38,195.51 L296.05,194.82 L296.73,194.12 L297.42,193.43 L298.12,192.73 L298.84,192.03 L299.56,191.32 L300.30,190.62 L301.05,189.91 L301.81,189.20 L302.58,188.49 L303.37,187.78 L304.16,187.06 L304.97,186.34 L305.79,185.62 L306.62,184.90 L307.46,184.18 L308.32,183.45 L309.18,182.72 L310.06,181.99 L310.95,181.25 L311.85,180.51 L312.76,179.77 L313.69,179.03 L314.62,178.29 L315.57,177.54 L316.53,176.79 L317.50,176.04 L318.48,175.28 L319.47,174.52 L320.48,173.76 L321.50,172.99 L322.52,172.23 L323.56,171.45 L324.62,170.68 L325.68,169.90 L326.75,169.12 L327.84,168.34 L328.94,167.56 L330.05,166.77 L331.17,165.97 L332.30,165.18 L333.45,164.38 L334.60,163.58 L335.77,162.77 L336.95,161.96 L338.14,161.15 L339.35,160.33 L340.56,159.51 L341.79,158.69 L343.02,157.86 L344.27,157.04 L345.53,156.20 L346.81,155.36 L348.09,154.52 L349.39,153.68 L350.69,152.83 L352.01,151.98 L353.34,151.13 L354.69,150.27 L356.04,149.40 L357.40,148.54 L358.78,147.67 L360.17,146.79 L361.57,145.91 L362.98,145.03 L364.41,144.14 L365.84,143.25 L367.29,142.36 L368.75,141.46 L370.22,140.55 L371.70,139.65 L373.19,138.73 L374.70,137.82 L376.21,136.90 L377.74,135.97 L379.28,135.04 L380.83,134.11 L382.40,133.17 L383.97,132.23 L385.56,131.28 L387.15,130.33 L388.76,129.37 L390.39,128.41 L392.02,127.44 L393.66,126.48 L395.32,125.51 L396.99,124.54 L398.66,123.57 L400.36,122.59 L402.06,121.62 L403.77,120.63 L405.50,119.65 L407.24,118.66 L408.98,117.67 L410.74,116.67 L412.52,115.66 L414.30,114.65 L416.10,113.63 L417.90,112.59 L419.72,111.54 L421.55,110.48 L423.39,109.40 L425.25,108.30 L427.11,107.19 L428.99,106.06 L430.88,104.91 L432.78,103.76 L434.69,102.59 L436.61,101.41 L438.55,100.22 L440.49,99.02 L442.45,97.81 L444.42,96.58 L446.40,95.35 L448.40,94.11 L450.40,92.86 L452.42,91.60 L454.45,90.34 L456.48,89.08 L458.54,87.80 L460.60,86.51 L462.67,85.21 L464.76,83.90 L466.86,82.58 L468.97,81.25 L471.09,79.91 L473.22,78.56 L475.36,77.20 L477.52,75.83 L479.69,74.45 L481.86,73.06 L484.06,71.66 L486.26,70.25 L488.47,68.83 L490.70,67.40 L492.93,65.96 L495.18,64.50 L497.44,63.04 L499.71,61.56 L502.00,60.08 L504.29,58.58 L506.60,57.07" fill="none" stroke="#00ff00" stroke-width="1.60" stroke-dasharray="2.80 5.50" stroke-dashoffset="1.22"/>
<path d="M276.30,233.60 L276.50,229.63 L276.51,229.59 L276.52,229.47 L276.55,229.29 L276.59,229.03 L276.65,228.72 L276.71,228.35 L276.78,227.94 L276.87,227.49 L276.97,227.00 L277.08,226.48 L277.20,225.94 L277.34,225.38 L277.48,224.80 L277.64,224.21 L277.81,223.60 L277.99,222.98 L278.18,222.36 L278.38,221.72 L278.60,221.08 L278.82,220.44 L279.06,219.79 L279.31,219.14 L279.57,218.48 L279.85,217.82 L280.13,217.16 L280.43,216.50 L280.74,215.84 L281.06,215.17 L281.39,214.50 L281.73,213.84 L282.08,213.17 L282.45,212.50 L282.83,211.83 L283.22,211.16 L283.62,210.49 L284.03,209.82 L284.45,209.14 L284.89,208.47 L285.34,207.80 L285.80,207.12 L286.27,206.45 L286.75,205.77 L287.24,205.10 L287.75,204.42 L288.27,203.74 L288.79,203.06 L289.34,202.38 L289.89,201.70 L290.45,201.02 L291.03,200.33 L291.61,199.65 L292.21,198.96 L292.82,198.28 L293.44,197.59 L294.08,196.90 L294.72,196.21 L295.38,195.51 L296.05,194.82 L296.73,194.12 L297.42,193.43 L298.12,192.73 L298.84,192.03 L299.56,191.32 L300.30,190.62 L301.05,189.91 L301.81,189.20 L302.58,188.49 L303.37,187.78 L304.16,187.06 L304.97,186.34 L305.79,185.62 L306.62,184.90 L307.46,184.18 L308.32,183.45 L309.18,182.72 L310.06,181.99 L310.95,181.25 L311.85,180.51 L312.76,179.77 L313.69,179.03 L314.62,178.29 L315.57,177.54 L316.53,176.79 L317.50,176.04 L318.48,175.28 L319.47,174.52 L320.48,173.76 L321.50,172.99 L322.52,172.23 L323.56,171.45 L324.62,170.68 L325.68,169.90 L326.75,169.12 L327.84,168.34 L328.94,167.56 L330.05,166.77 L331.17,165.97 L332.30,165.18 L333.45,164.38 L334.60,163.58 L335.77,162.77 L336.95,161.96 L338.14,161.15 L339.35,160.33 L340.56,159.51 L341.79,158.69 L343.02,157.86 L344.27,157.04 L345.53,156.20 L346.81,155.36 L348.09,154.52 L349.39,153.68 L350.69,152.83 L352.01,151.98 L353.34,151.13 L354.69,150.27 L356.04,149.40 L357.40,148.54 L358.78,147.67 L360.17,146.79 L361.57,145.91 L362.98,145.03 L364.41,144.14 L365.84,143.25 L367.29,142.36 L368.75,141.46 L370.22,140.55 L371.70,139.65 L373.19,138.73 L374.70,137.82 L376.21,136.90 L377.74,135.97 L379.28,135.04 L380.83,134.11 L382.40,133.17 L383.97,132.23 L385.56,131.28 L387.15,130.33 L388.76,129.37 L390.39,128.41 L392.02,127.44 L393.66,126.48 L395.32,125.51 L396.99,124.54 L398.66,123.57 L400.36,122.59 L402.06,121.62 L403.77,120.63 L405.50,119.65 L407.24,118.66 L408.98,117.67 L410.74,116.67 L412.52,115.66 L414.30,114.65 L416.10,113.63 L417.90,112.59 L419.72,111.54 L421.55,110.48 L423.39,109.40 L425.25,108.30 L427.11,107.19 L428.99,106.06 L430.88,104.91 L432.78,103.76 L434.69,102.59 L436.61,101.41 L438.55,100.22 L440.49,99.02 L442.45,97.81 L444.42,96.58 L446.40,95.35 L448.40,94.11 L450.40,92.86 L452.42,91.60 L454.45,90.34 L456.48,89.08 L458.54,87.80 L460.60,86.51 L462.67,85.21 L464.76,83.90 L466.86,82.58 L468.97,81.25 L471.09,79.91 L473.22,78.56 L475.36,77.20 L477.52,75.83 L479.69,74.45 L481.86,73.06 L484.06,71.66 L486.26,70.25 L488.47,68.83 L490.70,67.40 L492.93,65.96 L495.18,64.50 L497.44,63.04 L499.71,61.56 L502.00,60.08 L504.29,58.58 L506.60,57.07" fill="none" stroke="#0000ff" stroke-width="1.60" stroke-dasharray="11.10 8.70 2.80 5.40" stroke-dashoffset="21.27"/>
<path d="M276.30,233.60 L276.50,228.82 L276.51,228.78 L276.52,228.67 L276.55,228.48 L276.59,228.23 L276.64,227.91 L276.71,227.55 L276.78,227.13 L276.87,226.68 L276.96,226.20 L277.07,225.69 L277.19,225.16 L277.32,224.61 L277.46,224.05 L277.62,223.48 L277.78,222.89 L277.96,222.30 L278.15,221.70 L278.35,221.10 L278.56,220.49 L278.78,219.87 L279.02,219.26 L279.26,218.64 L279.52,218.02 L279.79,217.40 L280.07,216.78 L280.36,216.15 L280.66,215.53 L280.97,214.90 L281.30,214.27 L281.64,213.64 L281.98,213.01 L282.34,212.38 L282.71,211.75 L283.10,211.11 L283.49,210.48 L283.90,209.84 L284.31,209.20 L284.74,208.56 L285.18,207.91 L285.63,207.27 L286.09,206.62 L286.57,205.97 L287.05,205.32 L287.55,204.66 L288.06,204.01 L288.58,203.35 L289.11,202.69 L289.65,202.02 L290.20,201.36 L290.77,200.69 L291.34,200.01 L291.93,199.34 L292.53,198.66 L293.14,197.98 L293.76,197.29 L294.40,196.61 L295.04,195.92 L295.70,195.22 L296.37,194.53 L297.04,193.83 L297.74,193.12 L298.44,192.42 L299.15,191.71 L299.88,191.00 L300.61,190.28 L301.36,189.56 L302.12,188.84 L302.89,188.12 L303.67,187.39 L304.46,186.66 L305.27,185.93 L306.08,185.19 L306.91,184.45 L307.75,183.71 L308.60,182.96 L309.46,182.21 L310.34,181.46 L311.22,180.71 L312.12,179.95 L313.02,179.20 L313.94,178.43 L314.87,177.67 L315.82,176.90 L316.77,176.13 L317.73,175.36 L318.71,174.59 L319.70,173.81 L320.69,173.03 L321.70,172.25 L322.73,171.47 L323.76,170.69 L324.80,169.90 L325.86,169.11 L326.93,168.32 L328.01,167.52 L329.10,166.73 L330.20,165.93 L331.31,165.13 L332.43,164.33 L333.57,163.53 L334.72,162.73 L335.87,161.92 L337.04,161.11 L338.23,160.30 L339.42,159.49 L340.62,158.68 L341.84,157.87 L343.07,157.05 L344.30,156.23 L345.55,155.41 L346.82,154.60 L348.09,153.77 L349.37,152.95 L350.67,152.13 L351.97,151.30 L353.29,150.48 L354.62,149.65 L355.96,148.82 L357.32,147.99 L358.68,147.15 L360.06,146.32 L361.44,145.49 L362.84,144.65 L364.25,143.81 L365.67,142.97 L367.10,142.13 L368.55,141.29 L370.00,140.44 L371.47,139.60 L372.95,138.75 L374.44,137.90 L375.94,137.05 L377.45,136.20 L378.97,135.34 L380.51,134.48 L382.06,133.63 L383.61,132.76 L385.18,131.90 L386.76,131.03 L388.36,130.17 L389.96,129.30 L391.57,128.42 L393.20,127.55 L394.84,126.67 L396.49,125.79 L398.15,124.90 L399.82,124.01 L401.50,123.12 L403.20,122.23 L404.91,121.33 L406.62,120.43 L408.35,119.52 L410.09,118.61 L411.85,117.70 L413.61,116.78 L415.38,115.86 L417.17,114.93 L418.97,113.99 L420.78,113.06 L422.60,112.11 L424.43,111.16 L426.27,110.21 L428.13,109.25 L429.99,108.28 L431.87,107.31 L433.76,106.33 L435.66,105.34 L437.57,104.34 L439.50,103.34 L441.43,102.33 L443.38,101.31 L445.33,100.29 L447.30,99.25 L449.28,98.21 L451.27,97.16 L453.28,96.10 L455.29,95.02 L457.32,93.94 L459.36,92.85 L461.40,91.75 L463.46,90.63 L465.54,89.51 L467.62,88.37 L469.71,87.22 L471.82,86.06 L473.94,84.88 L476.07,83.69 L478.21,82.49 L480.36,81.27 L482.52,80.04 L484.69,78.80 L486.88,77.54 L489.08,76.26 L491.29,74.96 L493.51,73.66 L495.74,72.33 L497.98,70.98 L500.23,69.62 L502.50,68.24" fill="none" stroke="#ff7f00" stroke-width="1.50" stroke-dasharray="11.20 8.70" stroke-dashoffset="2.03"/>
</g>
<rect x="275.0" y="62.2" width="0.9" height="1.5" fill="#ff7f00"/>
<text x="38.60" y="239.40" font-family="Liberation Serif, serif" font-size="13.50" text-anchor="end" letter-spacing="0.80" fill="#000" >0</text>
<text x="38.60" y="181.91" font-family="Liberation Serif, serif" font-size="13.50" text-anchor="end" letter-spacing="0.80" fill="#000" >5</text>
<text x="38.60" y="124.42" font-family="Liberation Serif, serif" font-size="13.50" text-anchor="end" letter-spacing="0.80" fill="#000" >10</text>
<text x="38.60" y="66.94" font-family="Liberation Serif, serif" font-size="13.50" text-anchor="end" letter-spacing="0.80" fill="#000" >15</text>
<text x="38.60" y="9.45" font-family="Liberation Serif, serif" font-size="13.50" text-anchor="end" letter-spacing="0.80" fill="#000" >20</text>
<text x="45.90" y="252.30" font-family="Liberation Serif, serif" font-size="13.50" text-anchor="middle" letter-spacing="0.80" fill="#000" >0</text>
<text x="276.40" y="252.30" font-family="Liberation Serif, serif" font-size="13.50" text-anchor="middle" letter-spacing="0.80" fill="#000" >0</text>
<text x="115.40" y="252.30" font-family="Liberation Serif, serif" font-size="13.50" text-anchor="middle" letter-spacing="0.80" fill="#000" >0.05</text>
<text x="346.00" y="252.30" font-family="Liberation Serif, serif" font-size="13.50" text-anchor="middle" letter-spacing="0.80" fill="#000" >0.05</text>
<text x="184.90" y="252.30" font-family="Liberation Serif, serif" font-size="13.50" text-anchor="middle" letter-spacing="0.80" fill="#000" >0.10</text>
<text x="415.60" y="252.30" font-family="Liberation Serif, serif" font-size="13.50" text-anchor="middle" letter-spacing="0.80" fill="#000" >0.10</text>
<text x="254.40" y="252.30" font-family="Liberation Serif, serif" font-size="13.50" text-anchor="middle" letter-spacing="0.80" fill="#000" >0.15</text>
<text x="485.20" y="252.30" font-family="Liberation Serif, serif" font-size="13.50" text-anchor="middle" letter-spacing="0.80" fill="#000" >0.15</text>
<text x="133.20" y="272.2" font-family="Liberation Sans, sans-serif" font-style="italic" font-size="15.5" fill="#000" stroke="#000" stroke-width="0.25">ρ</text>
<text x="147.80" y="272.2" font-family="Liberation Serif, serif" font-size="15.30" letter-spacing="0.8" fill="#000">[fm<tspan dy="-6.4" font-size="11">-3</tspan><tspan dy="6.4">]</tspan></text>
<text x="364.20" y="272.2" font-family="Liberation Sans, sans-serif" font-style="italic" font-size="15.5" fill="#000" stroke="#000" stroke-width="0.25">ρ</text>
<text x="378.80" y="272.2" font-family="Liberation Serif, serif" font-size="15.30" letter-spacing="0.8" fill="#000">[fm<tspan dy="-6.4" font-size="11">-3</tspan><tspan dy="6.4">]</tspan></text>
<text transform="translate(14.3,119.7) rotate(-90)" font-family="Liberation Serif, serif" font-size="14.30" text-anchor="middle" letter-spacing="1.08" fill="#000">Energy/nucleon [MeV]</text>
<text x="58.2" y="30.2" font-family="Liberation Serif, serif" font-size="14.5" letter-spacing="0.5" fill="#000">E<tspan dy="-4.3" font-size="11.2" dx="-0.5">(1)</tspan><tspan x="67.8" dy="8.9" font-size="10.8" letter-spacing="0.6">NN+3N,eff</tspan></text>
<text x="289.0" y="30.2" font-family="Liberation Serif, serif" font-size="14.5" letter-spacing="0.5" fill="#000">E<tspan x="298.6" dy="4.4" font-size="10.8" letter-spacing="0.6">NN+3N,eff</tspan></text>
<rect x="292.2" y="54.1" width="20.6" height="9.8" fill="#ff0000"/>
<text x="322.60" y="63.20" font-family="Liberation Serif, serif" font-size="13.60" letter-spacing="0.85" fill="#000" >2.0</text>
<text x="346.60" y="62.50" font-family="Liberation Serif, serif" font-size="10.50" letter-spacing="0.00" fill="#000" font-weight="bold" stroke="#000" stroke-width="0.2">&lt;</text>
<text x="357.00" y="63.20" font-family="Liberation Serif, serif" font-size="13.60" letter-spacing="0.00" fill="#000" stroke="#000" stroke-width="0.45" stroke-linejoin="round">Λ</text>
<text x="368.80" y="67.20" font-family="Liberation Serif, serif" font-size="10.20" letter-spacing="0.60" fill="#000" >3N</text>
<text x="387.00" y="62.50" font-family="Liberation Serif, serif" font-size="10.50" letter-spacing="0.00" fill="#000" font-weight="bold" stroke="#000" stroke-width="0.2">&lt;</text>
<text x="398.90" y="63.20" font-family="Liberation Serif, serif" font-size="13.60" letter-spacing="0.85" fill="#000" >2.5</text>
<text x="422.10" y="63.20" font-family="Liberation Serif, serif" font-size="13.60" letter-spacing="0.85" fill="#000" >fm</text>
<text x="439.60" y="58.30" font-family="Liberation Serif, serif" font-size="10.20" letter-spacing="0.60" fill="#000" >-1</text>
<path d="M373.0,161.50 H406.3" stroke="#ff7f00" stroke-width="1.4" stroke-dasharray="11.3 8.6" fill="none"/>
<path d="M373.0,179.95 H406.3" stroke="#ff0000" stroke-width="1.75" fill="none"/>
<path d="M373.2,198.25 H406.3" stroke="#00ff00" stroke-width="1.55" stroke-dasharray="2.8 5.5" fill="none"/>
<path d="M373.2,216.80 H406.3" stroke="#0000ff" stroke-width="1.55" stroke-dasharray="2.9 5.2 10.7 9.1" fill="none"/>
<text x="414.70" y="166.00" font-family="Liberation Serif, serif" font-size="13.60" letter-spacing="0.00" fill="#000" stroke="#000" stroke-width="0.45" stroke-linejoin="round">Λ</text>
<text x="429.90" y="166.00" font-family="Liberation Serif, serif" font-size="13.60" letter-spacing="0.85" fill="#000" >=</text>
<text x="443.20" y="166.00" font-family="Liberation Serif, serif" font-size="13.60" letter-spacing="0.85" fill="#000" >1.8</text>
<text x="466.20" y="166.00" font-family="Liberation Serif, serif" font-size="13.60" letter-spacing="0.85" fill="#000" >fm</text>
<text x="484.10" y="161.10" font-family="Liberation Serif, serif" font-size="10.20" letter-spacing="0.60" fill="#000" >-1</text>
<text x="414.70" y="184.20" font-family="Liberation Serif, serif" font-size="13.60" letter-spacing="0.00" fill="#000" stroke="#000" stroke-width="0.45" stroke-linejoin="round">Λ</text>
<text x="429.90" y="184.20" font-family="Liberation Serif, serif" font-size="13.60" letter-spacing="0.85" fill="#000" >=</text>
<text x="443.20" y="184.20" font-family="Liberation Serif, serif" font-size="13.60" letter-spacing="0.85" fill="#000" >2.0</text>
<text x="466.20" y="184.20" font-family="Liberation Serif, serif" font-size="13.60" letter-spacing="0.85" fill="#000" >fm</text>
<text x="484.10" y="179.30" font-family="Liberation Serif, serif" font-size="10.20" letter-spacing="0.60" fill="#000" >-1</text>
<text x="414.70" y="202.60" font-family="Liberation Serif, serif" font-size="13.60" letter-spacing="0.00" fill="#000" stroke="#000" stroke-width="0.45" stroke-linejoin="round">Λ</text>
<text x="429.90" y="202.60" font-family="Liberation Serif, serif" font-size="13.60" letter-spacing="0.85" fill="#000" >=</text>
<text x="443.20" y="202.60" font-family="Liberation Serif, serif" font-size="13.60" letter-spacing="0.85" fill="#000" >2.4</text>
<text x="466.20" y="202.60" font-family="Liberation Serif, serif" font-size="13.60" letter-spacing="0.85" fill="#000" >fm</text>
<text x="484.10" y="197.70" font-family="Liberation Serif, serif" font-size="10.20" letter-spacing="0.60" fill="#000" >-1</text>
<text x="414.70" y="221.20" font-family="Liberation Serif, serif" font-size="13.60" letter-spacing="0.00" fill="#000" stroke="#000" stroke-width="0.45" stroke-linejoin="round">Λ</text>
<text x="429.90" y="221.20" font-family="Liberation Serif, serif" font-size="13.60" letter-spacing="0.85" fill="#000" >=</text>
<text x="443.20" y="221.20" font-family="Liberation Serif, serif" font-size="13.60" letter-spacing="0.85" fill="#000" >2.8</text>
<text x="466.20" y="221.20" font-family="Liberation Serif, serif" font-size="13.60" letter-spacing="0.85" fill="#000" >fm</text>
<text x="484.10" y="216.30" font-family="Liberation Serif, serif" font-size="10.20" letter-spacing="0.60" fill="#000" >-1</text>
</svg>
</body></html>
